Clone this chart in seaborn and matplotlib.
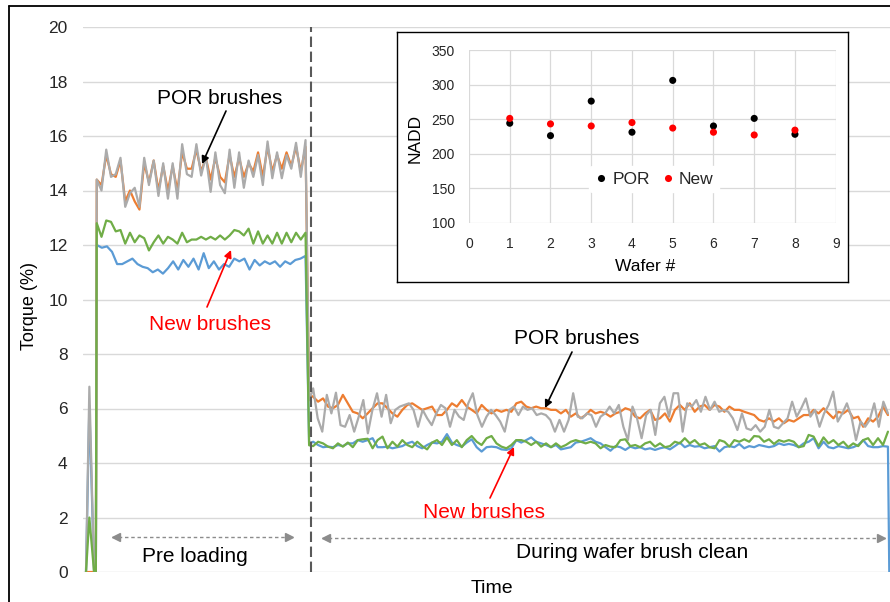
import numpy as np
import pandas as pd
import matplotlib
matplotlib.use("Agg")
import matplotlib.pyplot as plt
from matplotlib.lines import Line2D
import seaborn as sns

# ---------------- data ----------------
# time axis (sample units) of each recorded segment
T_START = [0.0, 0.75, 1.8, 2.2]
T_PRE = (2.4, 49.0)
T_DROP = [49.8]
T_CLEAN = (50.7, 179.0)
T_END = [179.3]
PHASE_SPLIT = 50.2

GRAY_START = [0, 6.8, 0, 0]
ORANGE_START = [0, 0, 0, 0]
BLUE_START = [0, 6.1, 0, 0]
GREEN_START = [0, 2.0, 0, 0]

GRAY_PRE = [14.4, 14.0, 15.5, 14.5, 14.6, 15.2, 13.4, 13.9, 14.1, 13.4, 15.2, 14.2, 15.1, 13.8, 15.0,
            13.7, 15.0, 13.7, 15.7, 14.6, 14.5, 15.7, 14.55, 15.25, 13.95, 15.4, 14.2, 13.9, 15.5, 14.1,
            15.4, 14.1, 15.1, 14.5, 15.3, 14.2, 15.8, 14.45, 15.4, 14.45, 15.3, 14.8, 15.75, 14.5, 15.85]
ORANGE_PRE = [14.4, 14.2, 15.3, 14.6, 14.5, 15.1, 13.6, 14.0, 13.6, 13.3, 15.0, 14.3, 15.1, 14.0, 14.9,
              14.0, 14.9, 14.0, 15.4, 14.8, 14.8, 15.5, 14.7, 15.2, 14.4, 15.2, 14.5, 14.3, 15.3, 14.5,
              15.2, 14.5, 15.0, 14.7, 15.4, 14.5, 15.6, 14.7, 15.3, 14.8, 15.4, 14.9, 15.6, 14.7, 15.6]
GREEN_PRE = [12.8, 12.3, 12.9, 12.85, 12.5, 12.55, 12.05, 12.45, 12.1, 12.35, 12.25, 11.8, 12.1, 12.35,
             12.05, 12.3, 12.2, 12.05, 12.45, 12.1, 12.2, 12.2, 12.3, 12.2, 12.3, 12.2, 12.35, 12.2, 12.35,
             12.55, 12.5, 12.35, 12.6, 12.05, 12.5, 12.05, 12.35, 12.05, 12.45, 12.05, 12.45, 12.1, 12.45,
             12.2, 12.45]
BLUE_PRE = [12.0, 11.9, 11.95, 11.75, 11.3, 11.3, 11.4, 11.5, 11.3, 11.2, 11.15, 11.0, 11.1, 10.95, 11.15,
            11.4, 11.1, 11.45, 11.2, 11.5, 11.1, 11.7, 11.15, 11.4, 11.1, 11.3, 11.2, 11.5, 11.4, 11.5,
            11.1, 11.45, 11.25, 11.4, 11.3, 11.4, 11.2, 11.4, 11.3, 11.45, 11.5, 11.6]

GRAY_DROP = [6.3]
ORANGE_DROP = [6.5]
GREEN_DROP = [4.65]
BLUE_DROP = [4.7]

GRAY_CLEAN = [6.74, 5.64, 5.15, 6.50, 5.82, 6.58, 5.39, 5.33, 5.76, 5.15, 5.70, 6.31, 5.09, 5.95, 6.56,
              5.70, 6.50, 5.46, 5.95, 6.07, 6.13, 6.19, 5.95, 5.33, 5.95, 5.64, 5.39, 5.82, 6.13, 6.01,
              5.33, 5.95, 5.70, 5.58, 6.19, 6.56, 5.76, 5.33, 5.70, 5.95, 5.76, 5.52, 5.15, 5.95, 6.07,
              5.76, 6.07, 5.95, 6.01, 5.76, 5.82, 5.76, 5.58, 5.15, 5.58, 5.15, 5.58, 6.56, 5.70, 5.64,
              5.82,
              5.76, 5.33, 5.70, 5.82, 6.07, 5.82, 6.13, 5.33, 4.84, 6.07, 5.64, 4.91, 5.76, 5.95, 5.03,
              6.19, 6.43, 5.70, 6.56, 6.56, 5.15, 6.19, 6.07, 6.31, 5.88, 6.43, 5.95, 6.25, 5.88, 5.95,
              5.88, 5.64, 5.21, 5.82, 5.27, 5.21, 5.39, 5.15, 5.33, 5.95, 5.33, 5.27, 5.46, 5.64, 6.25,
              5.70, 6.01, 6.37, 5.70, 5.95, 5.33, 5.82, 6.13, 6.62, 5.52, 5.82, 6.19, 5.70, 4.84, 5.52,
              5.33, 5.58, 6.19, 5.33, 6.25, 5.82]
ORANGE_CLEAN = [6.43, 6.25, 6.37, 6.07, 6.01, 6.13, 6.50, 6.19, 5.88, 5.82, 5.64, 5.82, 6.01, 6.19, 6.19,
                6.01, 5.82, 5.70, 5.95, 6.13, 6.19, 6.07, 5.95, 6.01, 6.07, 5.76, 5.76, 5.95, 6.19, 6.07,
                6.31, 6.07, 5.95, 5.82, 6.13, 5.95, 5.82, 5.95, 5.88, 5.95, 5.88, 6.19, 6.25, 6.07, 6.01,
                6.07, 6.01, 6.01, 5.95, 5.95, 5.82, 5.95, 5.70, 5.82, 5.64, 5.76, 5.95, 5.82, 5.88,
                5.82, 5.70, 5.82, 5.88, 6.01, 5.95, 5.70, 5.64, 5.82, 5.95, 5.58, 5.64, 5.82, 5.52, 5.95,
                6.13, 5.95, 6.19, 5.88, 6.07, 6.13, 5.95, 6.13, 6.07, 5.88, 6.07, 5.95, 5.95, 5.88, 5.82,
                5.76, 5.58, 5.52, 5.64, 5.52, 5.64, 5.46, 5.58, 5.52, 5.64, 5.76, 5.76, 5.95, 5.82, 6.01,
                5.82, 5.64, 5.88, 5.82, 5.95, 5.64, 5.70, 5.33, 5.64, 5.52, 5.70, 6.07, 5.76]
GREEN_CLEAN = [4.62, 4.78, 4.72, 4.60, 4.54, 4.72, 4.60, 4.75, 4.58, 4.84, 4.87, 4.89, 4.54, 4.84, 4.97,
               4.54, 4.78, 4.60, 4.84, 4.66, 4.58, 4.78, 4.62, 4.50, 4.75, 4.84, 4.66, 4.94, 4.66, 4.84,
               4.58, 4.84, 4.99, 4.78, 4.66, 4.91, 4.99, 4.72, 4.60, 4.54, 4.66, 4.84, 4.84, 4.78, 4.66,
               4.78, 4.60, 4.72, 4.58, 4.72, 4.58, 4.66, 4.78, 4.84, 4.78, 4.72, 4.78, 4.72,
               4.54, 4.66, 4.60, 4.58, 4.84, 4.87, 4.62, 4.66, 4.58, 4.72, 4.78, 4.60, 4.72, 4.58, 4.62,
               4.78, 4.72, 4.91, 4.72, 4.84, 4.66, 4.72, 4.58, 4.54, 4.84, 4.78, 4.60, 4.84, 4.78, 4.87,
               4.78, 4.99, 4.97, 4.78, 4.87, 4.70, 4.84, 4.78, 4.84, 4.78, 4.58, 4.62, 5.03, 4.97, 4.62,
               4.94, 4.72, 4.84, 4.66, 4.78, 4.58, 4.72, 4.62, 4.84, 4.91, 4.66, 4.91, 4.66, 5.15]
BLUE_CLEAN = [4.78, 4.66, 4.58, 4.60, 4.58, 4.66, 4.62, 4.72, 4.72, 4.84, 4.78, 4.84, 4.91, 4.58, 4.58,
              4.60, 4.54, 4.58, 4.62, 4.72, 4.78, 4.62, 4.54, 4.66, 4.75, 4.72, 4.78, 5.06, 4.75, 4.66,
              4.60, 4.75, 4.87, 4.58, 4.42, 4.58, 4.60, 4.58, 4.50, 4.48, 4.54, 4.84, 4.75, 4.84, 4.94,
              4.78, 4.72, 4.66, 4.58, 4.66, 4.50, 4.54, 4.58, 4.75, 4.78, 4.84, 4.91, 4.78,
              4.72, 4.58, 4.45, 4.62, 4.58, 4.48, 4.60, 4.54, 4.58, 4.50, 4.54, 4.48, 4.54, 4.58, 4.50,
              4.62, 4.75, 4.58, 4.66, 4.60, 4.62, 4.54, 4.58, 4.62, 4.42, 4.58, 4.62, 4.58, 4.70, 4.54,
              4.62, 4.58, 4.66, 4.62, 4.58, 4.62, 4.72, 4.66, 4.70, 4.66, 4.58, 4.72, 4.78, 4.91, 4.54,
              4.78, 4.58, 4.54, 4.62, 4.58, 4.54, 4.58, 4.66, 4.84, 4.62, 4.58, 4.58, 4.62, 4.60]
BLUE_END = [0.0]

WAFER = [1, 2, 3, 4, 5, 6, 7, 8]
NADD_POR = [244, 226, 276, 231, 306, 240, 251, 228]
NADD_NEW = [251, 243, 240, 245, 237, 231, 227, 234]

# ---------------- style ----------------
sns.set_theme(style="white")
plt.rcParams['font.family'] = ['Liberation Sans', 'DejaVu Sans']

W, H = 890, 602


def fp(x, y):
    return (x / W, 1 - y / H)


def build(start, pre, drop, clean, end=()):
    t = (list(T_START[:len(start)]) + list(np.linspace(T_PRE[0], T_PRE[1], len(pre)))
         + list(T_DROP[:len(drop)]) + list(np.linspace(T_CLEAN[0], T_CLEAN[1], len(clean)))
         + list(T_END[:len(end)]))
    v = list(start) + list(pre) + list(drop) + list(clean) + list(end)
    return pd.DataFrame({'t': t, 'torque': v})


series = [
    (build(BLUE_START, BLUE_PRE, BLUE_DROP, BLUE_CLEAN, BLUE_END), '#5B9BD5'),
    (build(ORANGE_START, ORANGE_PRE, ORANGE_DROP, ORANGE_CLEAN), '#ED7D31'),
    (build(GRAY_START, GRAY_PRE, GRAY_DROP, GRAY_CLEAN), '#ABABAB'),
    (build(GREEN_START, GREEN_PRE, GREEN_DROP, GREEN_CLEAN), '#70AD47'),
]

fig = plt.figure(figsize=(8.9, 6.02), dpi=100)
fig.patch.set_facecolor('white')
ax = fig.add_axes([83 / W, 1 - 572 / H, (W - 83) / W, 545 / H])

for df, col in series:
    sns.lineplot(data=df, x='t', y='torque', color=col, lw=1.6, ax=ax,
                 legend=False, estimator=None, sort=False)

ax.set_xlim(-0.67, 179.46)
ax.set_ylim(0, 20)
ax.set_yticks(range(0, 21, 2))
ax.set_xticks([])
ax.grid(axis='y', color='#d9d9d9', lw=1.0)
ax.set_axisbelow(True)
for s in ax.spines.values():
    s.set_visible(False)
ax.tick_params(axis='y', length=0, pad=11, labelsize=12.5, labelcolor='#262626')
ax.set_ylabel('Torque (%)', fontsize=13, color='black', va='center')
ax.yaxis.set_label_coords(-0.0657, 0.488)
ax.set_xlabel('Time', fontsize=14, color='black', va='center')
ax.xaxis.set_label_coords(0.507, -0.0294)

ax.axvline(PHASE_SPLIT, color='#595959', lw=1.5, ls=(0, (5, 2.2)))

# annotations
def arrow(x0, y0, x1, y1, color):
    ax.annotate('', xy=fp(x1, y1), xytext=fp(x0, y0), xycoords='figure fraction',
                textcoords='figure fraction',
                arrowprops=dict(arrowstyle='-|>', color=color, lw=1.2, mutation_scale=11,
                                shrinkA=0, shrinkB=0))


fig.text(*fp(220, 99), 'POR brushes', ha='center', va='center', fontsize=15, color='black')
arrow(226, 111, 202, 164, 'black')
fig.text(*fp(210, 325), 'New brushes', ha='center', va='center', fontsize=15, color='#FF0000')
arrow(207, 307, 231, 250, '#FF0000')
fig.text(*fp(577, 338), 'POR brushes', ha='center', va='center', fontsize=15, color='black')
arrow(572, 352, 545, 408, 'black')
fig.text(*fp(484, 513), 'New brushes', ha='center', va='center', fontsize=15, color='#FF0000')
arrow(490, 498, 514, 447, '#FF0000')


def span(x0, x1, y):
    fx0, fy = fp(x0, y)
    fx1, _ = fp(x1, y)
    c = '#8c8c8c'
    fig.add_artist(Line2D([fx0, fx1], [fy, fy], color=c, lw=1.0, ls=(0, (2.5, 2)),
                          transform=fig.transFigure))
    fig.add_artist(Line2D([fp(x0 + 4, y)[0]], [fy], marker='<', ms=6, color=c, lw=0,
                          transform=fig.transFigure))
    fig.add_artist(Line2D([fp(x1 - 4, y)[0]], [fy], marker='>', ms=6, color=c, lw=0,
                          transform=fig.transFigure))


span(112, 293, 537)
fig.text(*fp(195, 556), 'Pre loading', ha='center', va='center', fontsize=15, color='black')
span(322, 885, 538)
fig.text(*fp(632, 553), 'During wafer brush clean', ha='center', va='center', fontsize=15,
         color='black')

# outer border
fig.add_artist(Line2D([8.5 / W, 8.5 / W], [0, 1 - 6 / H], color='black', lw=1.3,
                      transform=fig.transFigure))
fig.add_artist(Line2D([8.5 / W, 1], [1 - 6 / H, 1 - 6 / H], color='black', lw=1.3,
                      transform=fig.transFigure))

# ---------------- inset ----------------
frame = fig.add_axes([397 / W, 1 - 282 / H, 451 / W, 250 / H], zorder=3)
frame.set_xticks([])
frame.set_yticks([])
frame.set_facecolor('white')
for s in frame.spines.values():
    s.set_visible(True)
    s.set_color('black')
    s.set_linewidth(1.0)

ins = fig.add_axes([469 / W, 1 - 222.7 / H, 366.7 / W, 172.7 / H], zorder=4)
ins.patch.set_alpha(0)
df_in = pd.DataFrame({'Wafer #': WAFER + WAFER,
                      'NADD': NADD_POR + NADD_NEW,
                      'Brushes': ['POR'] * len(WAFER) + ['New'] * len(WAFER)})
sns.scatterplot(data=df_in, x='Wafer #', y='NADD', hue='Brushes',
                palette={'POR': 'black', 'New': '#FF0000'}, s=26, linewidth=0, ax=ins)
ins.set_xlim(0, 9)
ins.set_ylim(100, 350)
ins.set_xticks(range(0, 10))
ins.set_yticks(range(100, 351, 50))
ins.grid(True, color='#d9d9d9', lw=0.9)
ins.set_axisbelow(True)
for s in ins.spines.values():
    s.set_visible(False)
ins.tick_params(length=0, pad=10, labelsize=10, labelcolor='#262626')
ins.set_ylabel('NADD', fontsize=12.5, color='black', va='center')
ins.yaxis.set_label_coords(-0.147, 0.49)
ins.set_xlabel('Wafer #', fontsize=12.5, color='black', va='center')
ins.xaxis.set_label_coords(0.48, -0.251)
h, l = ins.get_legend_handles_labels()
leg = ins.legend(h, l, loc='center', bbox_to_anchor=(0.5045, 0.253), ncol=2, frameon=True,
                 facecolor='white', edgecolor='white', framealpha=1, fontsize=12.5,
                 handlelength=0.8, handletextpad=0.25, columnspacing=0.6, borderpad=0.3)

fig.savefig('out.png', dpi=100, facecolor='white')
